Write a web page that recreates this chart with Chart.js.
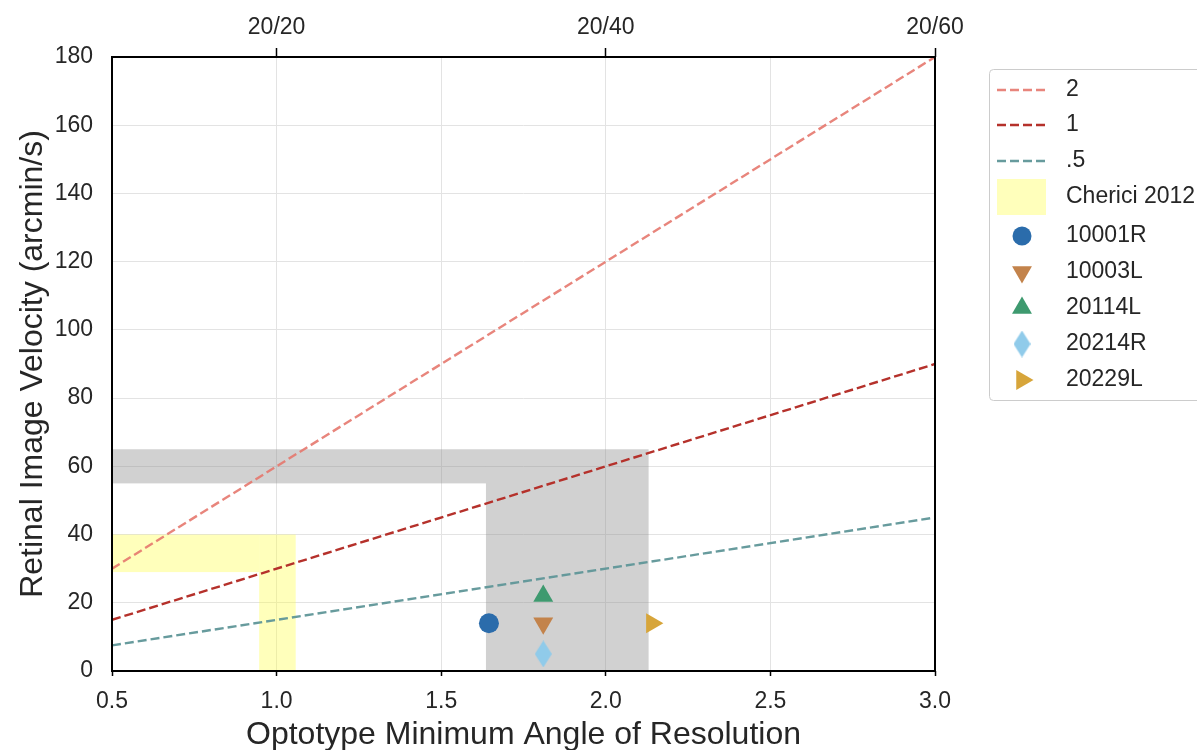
<!DOCTYPE html>
<html>
<head>
<meta charset="utf-8">
<script src="https://cdn.jsdelivr.net/npm/chart.js@4/dist/chart.umd.min.js"></script>
<style>
  html, body { margin: 0; padding: 0; background: #fff; }
  #wrap { width: 1197px; height: 750px; }
</style>
</head>
<body>
<div id="wrap"><canvas id="c" width="1197" height="750"></canvas></div>
<script>
// Reference lines: velocity = k * MAR over the plotted range
const lineX = [0.5, 3.0];
const lineK2 = [30, 180];
const lineK1 = [15, 90];
const lineKHalf = [7.5, 45];
const lineLabels = ['2', '1', '.5'];

// Subject measurements (MAR, velocity)
const subjects = ['10001R', '10003L', '20114L', '20214R', '20229L'];
const subjectX = [1.645, 1.81, 1.81, 1.81, 2.14];
const subjectY = [14, 14, 22, 5, 14];

// Shaded regions: x0, x1, y0, y1
const grayX0 = [0.5, 1.636];
const grayX1 = [1.636, 2.13];
const grayY0 = [55, 0];
const grayY1 = [65, 65];
const chericiX0 = [0.5, 0.947];
const chericiX1 = [0.947, 1.058];
const chericiY0 = [29, 0];
const chericiY1 = [40, 40];
const chericiLabel = 'Cherici 2012';

// Top axis: Snellen equivalents
const topTickValues = [1, 2, 3];
const topTickLabels = ['20/20', '20/40', '20/60'];

const FONT = "'Liberation Sans', Arial, Helvetica, sans-serif";
const TXT = '#262626';
const TICK_SIZE = 23;
const TITLE_SIZE = 32;

const lineColors = ['rgba(229,120,110,0.9)', '#b5312b', 'rgba(95,150,152,0.95)'];
const markerColors = ['#2b6cab', '#c3834b', '#3e9a6f', '#90cbea', '#d7a53a'];

// Thin diamond marker
function makeDiamond(color, w, h) {
  const c = document.createElement('canvas');
  c.width = w; c.height = h;
  const g = c.getContext('2d');
  g.fillStyle = color;
  g.beginPath();
  g.moveTo(w / 2, 0); g.lineTo(w, h / 2); g.lineTo(w / 2, h); g.lineTo(0, h / 2);
  g.closePath(); g.fill();
  return c;
}
const diamondImg = makeDiamond(markerColors[3], 17, 27);

const markerStyles = [
  { style: 'circle', rot: 0, r: 10 },
  { style: 'triangle', rot: 180, r: 11.5 },
  { style: 'triangle', rot: 0, r: 11.5 },
  { style: diamondImg, rot: 0, r: 10 },
  { style: 'triangle', rot: 90, r: 11.5 }
];

const lineData = [lineK2, lineK1, lineKHalf];
const datasets = [];
lineData.forEach((ys, i) => {
  datasets.push({
    label: lineLabels[i],
    data: lineX.map((x, j) => ({ x: x, y: ys[j] })),
    showLine: true,
    borderColor: lineColors[i],
    backgroundColor: lineColors[i],
    borderWidth: 2.4,
    borderDash: [9, 4],
    pointRadius: 0,
    pointHoverRadius: 0,
    kind: 'line'
  });
});
subjects.forEach((name, i) => {
  datasets.push({
    label: name,
    data: [{ x: subjectX[i], y: subjectY[i] }],
    showLine: false,
    pointStyle: markerStyles[i].style,
    rotation: markerStyles[i].rot,
    pointRadius: markerStyles[i].r,
    pointHoverRadius: markerStyles[i].r,
    backgroundColor: markerColors[i],
    borderColor: markerColors[i],
    borderWidth: 0,
    kind: 'marker',
    markerIndex: i
  });
});

function drawBoxes(chart, x0s, x1s, y0s, y1s, fill) {
  const { ctx, chartArea, scales } = chart;
  ctx.save();
  ctx.beginPath();
  ctx.rect(chartArea.left, chartArea.top, chartArea.right - chartArea.left, chartArea.bottom - chartArea.top);
  ctx.clip();
  ctx.fillStyle = fill;
  for (let i = 0; i < x0s.length; i++) {
    const px0 = scales.x.getPixelForValue(x0s[i]);
    const px1 = scales.x.getPixelForValue(x1s[i]);
    const py0 = scales.y.getPixelForValue(y0s[i]);
    const py1 = scales.y.getPixelForValue(y1s[i]);
    ctx.fillRect(px0, py1, px1 - px0, py0 - py1);
  }
  ctx.restore();
}

const regionsPlugin = {
  id: 'regions',
  beforeDatasetsDraw(chart) {
    drawBoxes(chart, grayX0, grayX1, grayY0, grayY1, 'rgba(140,140,140,0.4)');
    drawBoxes(chart, chericiX0, chericiX1, chericiY0, chericiY1, 'rgba(255,255,60,0.35)');
  }
};

const framePlugin = {
  id: 'frame',
  afterDatasetsDraw(chart) {
    const { ctx, chartArea: a } = chart;
    ctx.save();
    ctx.strokeStyle = '#000';
    ctx.lineWidth = 2;
    ctx.strokeRect(a.left, a.top, a.right - a.left, a.bottom - a.top);
    ctx.restore();
  }
};

function drawMarker(ctx, i, x, y) {
  const m = markerStyles[i];
  ctx.fillStyle = markerColors[i];
  if (m.style === 'circle') {
    ctx.beginPath(); ctx.arc(x, y, 9.5, 0, Math.PI * 2); ctx.fill();
  } else if (m.style === 'triangle') {
    const r = 11.5;
    const rad = m.rot * Math.PI / 180;
    ctx.beginPath();
    for (let k = 0; k < 3; k++) {
      const a = rad + k * 2 * Math.PI / 3;
      const px = x + Math.sin(a) * r, py = y - Math.cos(a) * r;
      if (k === 0) ctx.moveTo(px, py); else ctx.lineTo(px, py);
    }
    ctx.closePath(); ctx.fill();
  } else {
    ctx.drawImage(m.style, x - m.style.width / 2, y - m.style.height / 2);
  }
}

const legendPlugin = {
  id: 'sideLegend',
  afterDraw(chart) {
    const ctx = chart.ctx;
    const left = 989, top = 69, bottom = 400;
    ctx.save();
    ctx.fillStyle = 'rgba(255,255,255,0.9)';
    ctx.strokeStyle = '#cccccc';
    ctx.lineWidth = 1;
    ctx.beginPath();
    if (ctx.roundRect) ctx.roundRect(left + 0.5, top + 0.5, 260, bottom - top, 4);
    else ctx.rect(left + 0.5, top + 0.5, 260, bottom - top);
    ctx.fill(); ctx.stroke();

    const rowY = [90, 125, 161, 197, 236, 272, 308, 344, 380];
    const textX = 1066;
    ctx.font = TICK_SIZE + 'px ' + FONT;
    ctx.textBaseline = 'middle';
    let row = 0;
    const ds = chart.data.datasets;
    ds.filter(d => d.kind === 'line').forEach(d => {
      const y = rowY[row++];
      ctx.strokeStyle = d.borderColor;
      ctx.lineWidth = 2.4;
      ctx.setLineDash([9, 4]);
      ctx.beginPath(); ctx.moveTo(997, y); ctx.lineTo(1046, y); ctx.stroke();
      ctx.setLineDash([]);
      ctx.fillStyle = TXT;
      ctx.fillText(d.label, textX, y);
    });
    // shaded patch entry
    {
      const y = rowY[row++];
      ctx.fillStyle = 'rgba(255,255,60,0.35)';
      ctx.fillRect(997, y - 18, 49, 36);
      ctx.fillStyle = TXT;
      ctx.fillText(chericiLabel, textX, y);
    }
    ds.filter(d => d.kind === 'marker').forEach(d => {
      const y = rowY[row++];
      drawMarker(ctx, d.markerIndex, 1022, y);
      ctx.fillStyle = TXT;
      ctx.fillText(d.label, textX, y);
    });
    ctx.restore();
  }
};

new Chart(document.getElementById('c'), {
  type: 'scatter',
  data: { datasets: datasets },
  plugins: [regionsPlugin, framePlugin, legendPlugin],
  options: {
    responsive: false,
    animation: false,
    layout: { padding: { left: 0, right: 262, top: 0, bottom: 0 } },
    plugins: { legend: { display: false }, tooltip: { enabled: false } },
    scales: {
      x: {
        type: 'linear', position: 'bottom', min: 0.5, max: 3.0,
        afterFit(s) { s.height = 79; },
        ticks: {
          stepSize: 0.5, padding: 12, color: TXT,
          font: { family: FONT, size: TICK_SIZE },
          callback: v => Number(v).toFixed(1)
        },
        grid: { color: '#e3e3e3', lineWidth: 1, tickColor: '#000', tickLength: 5, tickWidth: 1.5 },
        border: { display: false },
        title: {
          display: true, text: 'Optotype Minimum Angle of Resolution', color: TXT,
          font: { family: FONT, size: TITLE_SIZE }, padding: { top: 0, bottom: -4 }
        }
      },
      x2: {
        type: 'linear', position: 'top', min: 0.5, max: 3.0,
        afterFit(s) { s.height = 57; },
        afterBuildTicks(s) { s.ticks = topTickValues.map(v => ({ value: v })); },
        ticks: {
          color: TXT, padding: 7,
          font: { family: FONT, size: TICK_SIZE },
          callback: v => topTickLabels[topTickValues.indexOf(v)]
        },
        grid: { drawOnChartArea: false, tickColor: '#000', tickLength: 9, tickWidth: 1.5 },
        border: { display: false }
      },
      y: {
        type: 'linear', position: 'left', min: 0, max: 180,
        afterFit(s) { s.width = 112; },
        ticks: {
          stepSize: 20, padding: 19, color: TXT,
          font: { family: FONT, size: TICK_SIZE }
        },
        grid: { color: '#e3e3e3', lineWidth: 1, drawTicks: false },
        border: { display: false },
        title: {
          display: true, text: 'Retinal Image Velocity (arcmin/s)', color: TXT,
          font: { family: FONT, size: TITLE_SIZE }, padding: { top: 14, bottom: 0 }
        }
      }
    }
  }
});
</script>
</body>
</html>
